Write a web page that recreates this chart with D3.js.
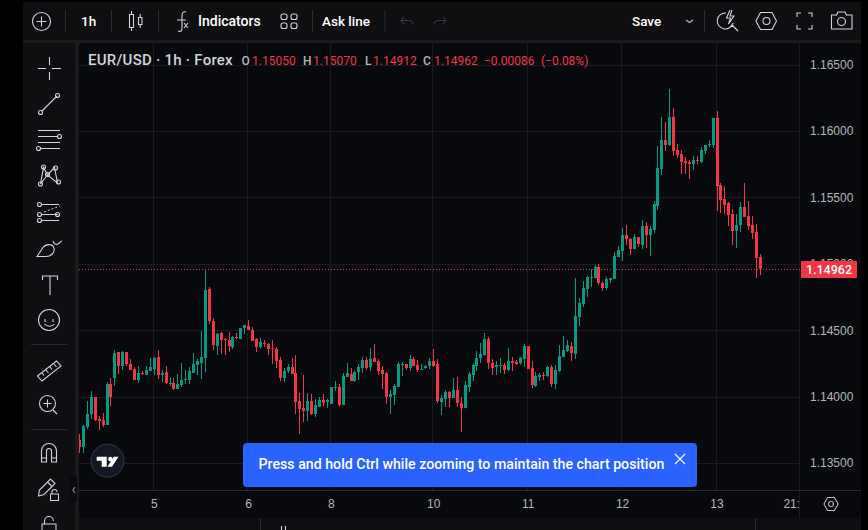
<!DOCTYPE html>
<html>
<head>
<meta charset="utf-8">
<script src="https://cdn.jsdelivr.net/npm/d3@7"></script>
<style>
  html, body { margin: 0; padding: 0; background: #000; overflow: hidden; }
  svg { display: block; font-family: Roboto, "Open Sans", sans-serif; }
</style>
</head>
<body>
<div id="chart"></div>
<script>
const opens = [
  1.13673,1.13621,1.13771,1.13869,1.13997,1.13832,1.13824,1.13786,1.14095,1.14140,
  1.14336,1.14230,1.14336,1.14245,1.14208,1.14125,1.14178,1.14163,1.14193,1.14208,
  1.14298,1.14163,1.14185,1.14095,1.14102,1.14057,1.14087,1.14125,1.14125,1.14178,
  1.14238,1.14253,1.14291,1.14810,1.14569,1.14381,1.14479,1.14433,1.14426,1.14373,
  1.14449,1.14433,1.14516,1.14531,1.14501,1.14433,1.14373,1.14403,1.14396,1.14366,
  1.14358,1.14276,1.14140,1.14193,1.14223,1.14178,1.13967,1.13914,1.13892,1.13967,
  1.13869,1.13922,1.13974,1.13959,1.13944,1.14065,1.14072,1.13937,1.14147,1.14170,
  1.14117,1.14185,1.14215,1.14276,1.14223,1.14291,1.14268,1.14200,1.14178,1.13997,
  1.14012,1.14072,1.14238,1.14245,1.14215,1.14283,1.14238,1.14200,1.14215,1.14230,
  1.14268,1.14245,1.13959,1.13982,1.14035,1.13989,1.14050,1.13952,1.13914,1.14072,
  1.14163,1.14230,1.14291,1.14313,1.14433,1.14253,1.14223,1.14230,1.14238,1.14200,
  1.14268,1.14260,1.14253,1.14283,1.14381,1.14215,1.14080,1.14147,1.14163,1.14155,
  1.14223,1.14095,1.14193,1.14298,1.14343,1.14381,1.14321,1.14599,1.14697,1.14810,
  1.14893,1.14893,1.14976,1.14855,1.14818,1.14878,1.14885,1.15051,1.15096,1.15216,
  1.15186,1.15111,1.15201,1.15141,1.15284,1.15216,1.15254,1.15435,1.15713,1.15932,
  1.15894,1.16105,1.15856,1.15826,1.15773,1.15766,1.15751,1.15781,1.15766,1.15849,
  1.15894,1.15894,1.16097,1.15593,1.15487,1.15457,1.15375,1.15246,1.15292,1.15427,
  1.15360,1.15292,1.15239,1.15050
];
const highs = [
  1.13718,1.13786,1.13967,1.14042,1.13997,1.13854,1.13877,1.14110,1.14140,1.14351,
  1.14336,1.14343,1.14336,1.14283,1.14223,1.14230,1.14193,1.14230,1.14291,1.14298,
  1.14351,1.14200,1.14230,1.14147,1.14140,1.14170,1.14253,1.14200,1.14223,1.14328,
  1.14283,1.14494,1.14961,1.14825,1.14592,1.14479,1.14486,1.14441,1.14486,1.14456,
  1.14479,1.14516,1.14539,1.14577,1.14524,1.14441,1.14441,1.14426,1.14403,1.14426,
  1.14373,1.14298,1.14215,1.14245,1.14291,1.14313,1.14027,1.14163,1.14027,1.14020,
  1.13982,1.13997,1.14020,1.13982,1.14072,1.14117,1.14095,1.14178,1.14253,1.14215,
  1.14193,1.14245,1.14298,1.14298,1.14366,1.14396,1.14283,1.14230,1.14185,1.14050,
  1.14095,1.14260,1.14260,1.14245,1.14313,1.14298,1.14276,1.14245,1.14238,1.14291,
  1.14358,1.14283,1.14012,1.14050,1.14042,1.14140,1.14147,1.13997,1.14117,1.14185,
  1.14253,1.14343,1.14403,1.14479,1.14449,1.14283,1.14268,1.14291,1.14253,1.14366,
  1.14298,1.14276,1.14298,1.14396,1.14381,1.14268,1.14185,1.14178,1.14185,1.14230,
  1.14238,1.14238,1.14388,1.14456,1.14426,1.14411,1.14893,1.14742,1.14870,1.14908,
  1.14961,1.14991,1.14998,1.14870,1.14900,1.14893,1.15088,1.15134,1.15269,1.15292,
  1.15194,1.15224,1.15201,1.15329,1.15314,1.15284,1.15472,1.15887,1.16105,1.16067,
  1.16316,1.16173,1.15902,1.15856,1.15804,1.15781,1.15811,1.15811,1.15879,1.15894,
  1.15932,1.16097,1.16150,1.15608,1.15585,1.15465,1.15412,1.15375,1.15465,1.15608,
  1.15472,1.15360,1.15299,1.15070
];
const lows = [
  1.13575,1.13575,1.13756,1.13832,1.13816,1.13749,1.13771,1.13786,1.13929,1.14080,
  1.14170,1.14200,1.14230,1.14200,1.14125,1.14102,1.14163,1.14163,1.14193,1.14163,
  1.14132,1.14110,1.14095,1.14080,1.14050,1.14057,1.14072,1.14095,1.14095,1.14178,
  1.14163,1.14132,1.14185,1.14546,1.14351,1.14313,1.14321,1.14313,1.14336,1.14358,
  1.14433,1.14433,1.14471,1.14501,1.14419,1.14336,1.14366,1.14373,1.14313,1.14245,
  1.14215,1.14117,1.14110,1.14178,1.14170,1.13869,1.13718,1.13809,1.13816,1.13862,
  1.13847,1.13922,1.13929,1.13914,1.13944,1.14042,1.13929,1.13937,1.14147,1.14117,
  1.14110,1.14125,1.14178,1.14200,1.14193,1.14260,1.14163,1.14057,1.13944,1.13869,
  1.13937,1.14072,1.14155,1.14200,1.14193,1.14230,1.14185,1.14200,1.14208,1.14208,
  1.14223,1.13952,1.13862,1.13922,1.13922,1.13989,1.13922,1.13733,1.13914,1.14035,
  1.14117,1.14193,1.14253,1.14306,1.14208,1.14163,1.14163,1.14178,1.14170,1.14193,
  1.14193,1.14238,1.14238,1.14223,1.14208,1.14065,1.14072,1.14117,1.14125,1.14147,
  1.14072,1.14057,1.14185,1.14298,1.14336,1.14268,1.14283,1.14531,1.14675,1.14750,
  1.14825,1.14893,1.14840,1.14795,1.14803,1.14855,1.14885,1.15051,1.15021,1.15141,
  1.15066,1.15111,1.15126,1.15111,1.15118,1.15058,1.15231,1.15405,1.15668,1.15849,
  1.15887,1.15811,1.15796,1.15676,1.15676,1.15638,1.15706,1.15751,1.15758,1.15826,
  1.15879,1.15872,1.15397,1.15382,1.15375,1.15284,1.15141,1.15118,1.15239,1.15352,
  1.15254,1.15186,1.14893,1.14912
];
const closes = [
  1.13621,1.13779,1.13869,1.13997,1.13824,1.13816,1.13786,1.14095,1.13997,1.14328,
  1.14230,1.14336,1.14245,1.14200,1.14125,1.14178,1.14170,1.14200,1.14223,1.14291,
  1.14163,1.14178,1.14102,1.14102,1.14057,1.14095,1.14125,1.14132,1.14193,1.14245,
  1.14268,1.14298,1.14803,1.14569,1.14388,1.14471,1.14426,1.14426,1.14381,1.14449,
  1.14441,1.14516,1.14539,1.14501,1.14419,1.14373,1.14411,1.14396,1.14358,1.14358,
  1.14268,1.14140,1.14193,1.14223,1.14170,1.13959,1.13907,1.13892,1.13967,1.13869,
  1.13937,1.13974,1.13952,1.13974,1.14072,1.14072,1.13937,1.14155,1.14178,1.14117,
  1.14185,1.14223,1.14276,1.14215,1.14283,1.14260,1.14193,1.14170,1.13997,1.14020,
  1.14080,1.14245,1.14245,1.14215,1.14283,1.14230,1.14200,1.14208,1.14230,1.14268,
  1.14230,1.13967,1.13989,1.14035,1.13989,1.14050,1.13952,1.13914,1.14087,1.14170,
  1.14238,1.14291,1.14321,1.14433,1.14253,1.14215,1.14238,1.14238,1.14200,1.14268,
  1.14253,1.14245,1.14291,1.14381,1.14208,1.14087,1.14155,1.14163,1.14155,1.14223,
  1.14095,1.14200,1.14306,1.14351,1.14388,1.14328,1.14607,1.14705,1.14818,1.14900,
  1.14900,1.14976,1.14855,1.14818,1.14885,1.14893,1.15058,1.15104,1.15216,1.15186,
  1.15111,1.15201,1.15149,1.15284,1.15216,1.15262,1.15450,1.15721,1.15932,1.15894,
  1.16105,1.15849,1.15819,1.15766,1.15758,1.15751,1.15781,1.15773,1.15856,1.15894,
  1.15902,1.16097,1.15585,1.15480,1.15442,1.15367,1.15246,1.15292,1.15427,1.15352,
  1.15284,1.15231,1.15043,1.14962
];
const priceTicks = [1.135, 1.14, 1.145, 1.15, 1.155, 1.16, 1.165];
const timeTickBars = [19, 43, 64, 90, 114, 138, 162, 181];
const timeTickLabels = ["5", "6", "8", "10", "11", "12", "13", "21:"];
const lastPrice = 1.14962;

const candles = opens.map((o, i) => ({ i, o, h: highs[i], l: lows[i], c: closes[i] }));

const width = 868, height = 530;
const up = "#089981", down = "#f23645", textCol = "#b2b5be", iconCol = "#d1d4dc";
const panelCol = "#0f0f12", chartCol = "#08090c", gridCol = "#1a1b1e", gapCol = "#1b1b1e";
const plot = { left: 79, right: 800, top: 43, bottom: 490 };

const xScale = d3.scaleLinear().domain([0, 173]).range([79, 759.8]);
const yScale = d3.scaleLinear().domain([1.135, 1.165]).range([463, 64.5]);

const svg = d3.select("#chart").append("svg").attr("width", width).attr("height", height);

// panels
function panel(x, y, w, h, fill, r) {
  return svg.append("rect").attr("x", x).attr("y", y).attr("width", w).attr("height", h)
    .attr("fill", fill).attr("rx", r || 0);
}
panel(23, 2, 838, 528, gapCol);
panel(23, 2, 838, 38, panelCol);
panel(23, 43, 52, 487, panelCol);
panel(79, 43, 782, 475, chartCol, 3);
panel(79, 518, 782, 12, panelCol);

// grid
svg.append("clipPath").attr("id", "plot-clip").append("rect")
  .attr("x", plot.left).attr("y", plot.top)
  .attr("width", plot.right - plot.left).attr("height", plot.bottom - plot.top);
const grid = svg.append("g").attr("shape-rendering", "crispEdges");
grid.selectAll(".h").data(priceTicks).join("line")
  .attr("x1", plot.left).attr("x2", plot.right)
  .attr("y1", d => Math.round(yScale(d)) + 0.5).attr("y2", d => Math.round(yScale(d)) + 0.5)
  .attr("stroke", gridCol);
grid.selectAll(".v").data(timeTickBars.slice(0, 7)).join("line")
  .attr("y1", plot.top).attr("y2", plot.bottom)
  .attr("x1", d => Math.round(xScale(d)) - 0.5).attr("x2", d => Math.round(xScale(d)) - 0.5)
  .attr("stroke", gridCol);

// axes
const xAxis = d3.axisBottom(xScale).tickValues(timeTickBars).tickSize(0).tickPadding(0)
  .tickFormat((d, i) => timeTickLabels[i]);
const yAxis = d3.axisRight(yScale).tickValues(priceTicks).tickSize(0).tickPadding(0)
  .tickFormat(d3.format(".5f"));

svg.append("g").attr("class", "axis x-axis").attr("transform", `translate(0,${plot.bottom + 9})`)
  .call(xAxis)
  .call(g => g.select(".domain").remove())
  .call(g => g.selectAll("text").attr("fill", textCol).attr("font-size", 12).attr("font-weight", 500));
svg.append("g").attr("class", "axis y-axis").attr("transform", "translate(810,0)")
  .call(yAxis)
  .call(g => g.select(".domain").remove())
  .call(g => g.selectAll("text").attr("fill", textCol).attr("font-size", 12));

svg.append("line").attr("x1", 79).attr("x2", 861).attr("y1", 490.5).attr("y2", 490.5).attr("stroke", "#2a2b2f");
svg.append("line").attr("x1", 799.5).attr("x2", 799.5).attr("y1", 43).attr("y2", 518).attr("stroke", gridCol);

// candles
const marks = svg.append("g").attr("clip-path", "url(#plot-clip)").attr("shape-rendering", "crispEdges");
const col = d => d.c >= d.o ? up : down;
const px = d => Math.round(xScale(d.i));
marks.selectAll(".wick").data(candles).join("rect").attr("class", "wick")
  .attr("x", d => px(d)).attr("width", 1)
  .attr("y", d => yScale(d.h)).attr("height", d => yScale(d.l) - yScale(d.h))
  .attr("fill", col);
marks.selectAll(".body").data(candles).join("rect").attr("class", "body")
  .attr("x", d => px(d) - 1).attr("width", 3)
  .attr("y", d => yScale(Math.max(d.o, d.c)))
  .attr("height", d => Math.max(1, Math.abs(yScale(d.o) - yScale(d.c))))
  .attr("fill", col);

// last price line and tag
const lastY = Math.round(yScale(lastPrice)) + 0.5;
svg.append("line").attr("x1", plot.left).attr("x2", plot.right).attr("y1", lastY).attr("y2", lastY)
  .attr("stroke", down).attr("stroke-dasharray", "1 2");
svg.append("rect").attr("x", 801).attr("y", lastY - 8.5).attr("width", 56).attr("height", 17).attr("rx", 1).attr("fill", down);
svg.append("text").attr("x", 829).attr("y", lastY + 4.5).attr("text-anchor", "middle")
  .attr("fill", "#fff").attr("font-size", 12.5).attr("font-weight", 500).text(d3.format(".5f")(lastPrice));

// header legend
function label(x, y, str, size, fill, weight) {
  return svg.append("text").attr("x", x).attr("y", y).attr("font-size", size).attr("fill", fill)
    .attr("font-weight", weight || 400).text(str);
}
label(88, 65, "EUR/USD · 1h · Forex", 15, "#d1d4dc", 500).attr("letter-spacing", 0.25);
[[241.5, "O"], [303, "H"], [365, "L"], [423, "C"]].forEach(d => label(d[0], 65, d[1], 12, textCol, 500));
[[252, "1.15050"], [313, "1.15070"], [373, "1.14912"], [434, "1.14962"], [484, "−0.00086"], [541, "(−0.08%)"]]
  .forEach(d => label(d[0], 65, d[1], 12, down));

// top bar
[65, 111, 158, 312, 384.5, 704].forEach(x =>
  svg.append("line").attr("x1", x + 0.5).attr("x2", x + 0.5).attr("y1", 10).attr("y2", 32).attr("stroke", "#2a2b2f"));
label(81, 26, "1h", 13.5, "#fff", 500);
label(198, 26, "Indicators", 14, "#fff", 500);
label(322, 26, "Ask line", 13.5, "#fff", 500);
label(632, 26, "Save", 13.5, "#fff", 500);

function icon(d, stroke, sw) {
  return svg.append("path").attr("d", d).attr("fill", "none").attr("stroke", stroke || iconCol).attr("stroke-width", sw || 1.1);
}
function ring(cx, cy, r, stroke) {
  return svg.append("circle").attr("cx", cx).attr("cy", cy).attr("r", r).attr("fill", "none").attr("stroke", stroke || iconCol).attr("stroke-width", 1.1);
}
ring(41.5, 21.5, 9);
icon("M36.5 21.5h10M41.5 16.5v10");
icon("M129.5 14.5h4v13h-4zM131.5 11v3.500M131.500 27.500v3.500M138.500 17.500h3.500v7h-3.500zM140.200 14v3.500M140.200 24.500v3.500");
icon("M186 12c-3-1-4 1-4 4v12c0 3-1 4-4 3M177 20h9M184 23l4 5M188 23l-4 5");
[[281, 14], [291, 14], [281, 23], [291, 23]].forEach(d =>
  svg.append("rect").attr("x", d[0]).attr("y", d[1]).attr("width", 6).attr("height", 5.500).attr("rx", 2)
    .attr("fill", "none").attr("stroke", iconCol).attr("stroke-width", 1.1));
icon("M404 24l-3-3.500 3-3.500M401 20.500h7c4 0 5 2 5 4", "#3a3b40");
icon("M443 24l3-3.500-3-3.500M446 20.500h-7c-4 0-5 2-5 4", "#3a3b40");
icon("M686 20l3.500 2.500 3.500-2.500", textCol);
icon("M726 13a8 8 0 1 0 7 10M732 25l6 6M730 10l-3.500 8h4l-2 6 5.500-8h-4l2-6");
icon("M756 21l4.500-8.500h11.500l4.500 8.500-4.500 8.500h-11.500z");
ring(766.5, 21, 3.5);
icon("M797 17v-4h4M808 13h4v4M812 25v4h-4M801 29h-4v-4");
icon("M831.500 15h5l1.500-3h7l1.500 3h5.500v14h-20.500z");
ring(841.5, 21.5, 4);

// left toolbar
icon("M38 68.500h8M52 68.500h9M49.500 57v8M49.500 72v8");
icon("M42 111l15-15"); ring(40.5, 112.5, 2); ring(57.5, 95.5, 2);
icon("M38 130.500h22M38 136.500h20M38 142.500h22M41 148.500h19"); ring(59.5, 136.5, 2); ring(38.5, 148.5, 2);
icon("M40.500 184l3-16.500 4 7.500 7-7.500 3 15.500-10-8z");
[[43.5, 167], [55.5, 168], [47.5, 174.5], [40.5, 184], [58.5, 182]].forEach(d => ring(d[0], d[1], 2));
icon("M42 204.500h17M42 214.500h16M42 220.500h17");
icon("M44 212l16-6", iconCol, 1).attr("stroke-dasharray", "2 2");
ring(39.5, 204.5, 2); ring(39.5, 214.5, 2); ring(57.5, 214.5, 2); ring(39.5, 220.5, 2);
icon("M37 256.500h9c5 0 9-4 8-8-1-5-8-5-11-1-2 3-4 6-6 9zM53 241c1 3 3 4 5 3 2-1 3-3 4-3");
icon("M42.500 280v-4h15v4M50 276v19");
ring(49, 320, 10.5);
icon("M45 319v3M53 319v3M44.500 324c2.500 3 7.500 3 10 0");
svg.append("line").attr("x1", 31).attr("x2", 67).attr("y1", 344.5).attr("y2", 344.5).attr("stroke", "#2a2b2f");
icon("M37.500 376l19-15 4.500 5-19 15zM42 373l2 2.500M46 370l2.500 3M50 367l2 2.500M54 364l2.500 3");
ring(47.5, 403.5, 8);
icon("M43.500 403.500h8M47.500 399.500v8M53 410l4 4");
svg.append("line").attr("x1", 31).attr("x2", 67).attr("y1", 429.5).attr("y2", 429.5).attr("stroke", "#2a2b2f");
icon("M41.500 462v-11a7.500 7.500 0 0 1 15 0v11h-5v-11a2.500 2.500 0 0 0-5 0v11zM41.500 458h5M51.500 458h5");
icon("M38.500 496l1-6 11-11 4.500 4.500-11 11zM47.500 482l4.500 4.500");
svg.append("rect").attr("x", 50.5).attr("y", 494).attr("width", 8).attr("height", 6.5).attr("fill", "none").attr("stroke", iconCol);
icon("M52 494v-2a2.500 2.500 0 0 1 5 0");
svg.append("rect").attr("x", 42).attr("y", 524).attr("width", 14).attr("height", 10).attr("fill", "none").attr("stroke", iconCol);
icon("M44.500 524v-3a4.500 4.500 0 0 1 9 0");
panel(69, 476, 8, 26, "#0b0b0d", 3);
icon("M75 487l-2 3 2 3", "#8a8d95");

// logo
svg.append("circle").attr("cx", 107.5).attr("cy", 460.7).attr("r", 16.5).attr("fill", "#141824").attr("stroke", "#363a45");
svg.append("path").attr("fill", "#fff")
  .attr("d", "M96.700 456.700h10v10h-5v-6h-5zM113.500 456.700h5l-6.500 10h-4.500z");
svg.append("circle").attr("cx", 110.3).attr("cy", 459).attr("r", 2.2).attr("fill", "#fff");

// notice
svg.append("rect").attr("x", 243).attr("y", 443).attr("width", 454).attr("height", 44).attr("rx", 4).attr("fill", "#2962ff");
label(258.5, 469, "Press and hold Ctrl while zooming to maintain the chart position", 14.2, "#fff", 500);
icon("M675 454l10 10M685 454l-10 10", "#fff");

// time axis settings
icon("M824 504l3.500-6.500h7l3.500 6.500-3.500 6.500h-7z", textCol);
ring(831, 504, 2.5, textCol);
icon("M260.500 518v12M755.500 518v12", "#2a2b2f");
icon("M281.500 526v4M285.500 526v4", iconCol);
</script>
</body>
</html>
